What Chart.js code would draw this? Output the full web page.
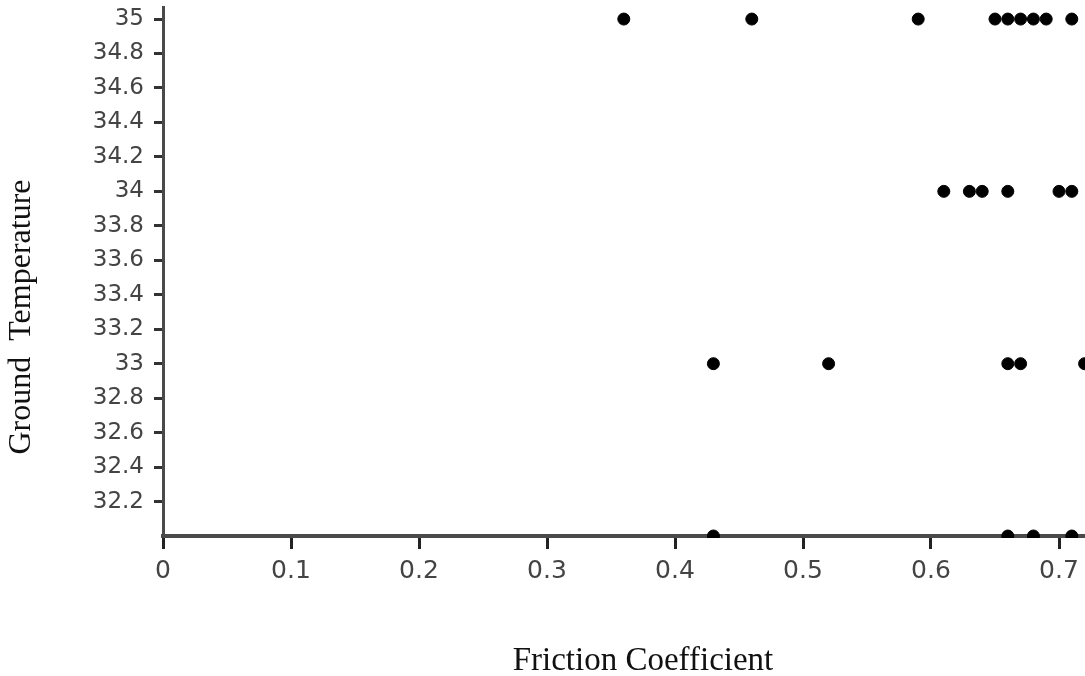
<!DOCTYPE html>
<html lang="en">
<head>
    <meta charset="UTF-8">
    <title>Friction Coefficient vs Ground Temperature</title>
    <script src="https://cdn.jsdelivr.net/npm/chart.js"></script>
    <style>
        html, body { margin: 0; padding: 0; overflow: hidden; background: #fff; }
        #grafico { display: block; }
    </style>
</head>
<body>
    <canvas id="grafico" width="1130" height="676"></canvas>
    <script>
        // values
        const friction = [
            0.36, 0.46, 0.59, 0.65, 0.66, 0.67, 0.68, 0.69, 0.71,
            0.61, 0.63, 0.64, 0.66, 0.70, 0.71,
            0.43, 0.52, 0.66, 0.67, 0.72,
            0.43, 0.66, 0.68, 0.71
        ];
        const temperature = [
            35, 35, 35, 35, 35, 35, 35, 35, 35,
            34, 34, 34, 34, 34, 34,
            33, 33, 33, 33, 33,
            32, 32, 32, 32
        ];
        const xTicks = [0, 0.1, 0.2, 0.3, 0.4, 0.5, 0.6, 0.7];
        const yTicks = [32.2, 32.4, 32.6, 32.8, 33, 33.2, 33.4, 33.6, 33.8, 34, 34.2, 34.4, 34.6, 34.8, 35];

        const puntos = friction.map((f, i) => ({ x: f, y: temperature[i] }));

        // y title sits a bit lower than the axis middle in the original
        const tituloY = {
            id: 'tituloY',
            afterDraw(chart) {
                const ctx = chart.ctx;
                ctx.save();
                ctx.translate(22, 317);
                ctx.rotate(-Math.PI / 2);
                ctx.font = '32px "Liberation Serif"';
                ctx.fillStyle = '#111';
                ctx.textAlign = 'center';
                ctx.textBaseline = 'middle';
                ctx.fillText('Ground  Temperature', 0, 0);
                ctx.restore();
            }
        };

        const ctx = document.getElementById('grafico').getContext('2d');
        new Chart(ctx, {
            type: 'scatter',
            data: {
                datasets: [{
                    label: 'Ground Temperature',
                    data: puntos,
                    backgroundColor: '#000',
                    borderColor: '#000',
                    borderWidth: 1,
                    pointRadius: 6,
                    pointHoverRadius: 6,
                    clip: { left: 10, top: 10, right: 10, bottom: 2 }
                }]
            },
            options: {
                responsive: false,
                animation: false,
                devicePixelRatio: 1,
                layout: { padding: { top: 7, left: 0, right: 0, bottom: 0 } },
                plugins: {
                    legend: { display: false },
                    tooltip: { enabled: false }
                },
                scales: {
                    x: {
                        type: 'linear',
                        min: 0,
                        max: 0.75,
                        afterBuildTicks: (s) => { s.ticks = xTicks.map(v => ({ value: v })); },
                        afterFit: (s) => {
                            s.height = 140;
                            s.paddingLeft = 0;
                            s.paddingRight = 0;
                        },
                        border: { color: '#4a4a4a', width: 4 },
                        grid: {
                            drawOnChartArea: false,
                            tickLength: 13,
                            tickWidth: 3,
                            tickColor: '#222'
                        },
                        ticks: {
                            padding: 7,
                            color: '#444',
                            font: { family: 'DejaVu Sans', size: 25 },
                            callback: (v) => String(v)
                        },
                        title: {
                            display: true,
                            text: 'Friction Coefficient',
                            color: '#111',
                            font: { family: 'Liberation Serif', size: 33 },
                            padding: { top: 0, bottom: -5 }
                        }
                    },
                    y: {
                        type: 'linear',
                        min: 32,
                        max: 35.07,
                        afterBuildTicks: (s) => { s.ticks = yTicks.map(v => ({ value: v })); },
                        afterFit: (s) => {
                            s.width = 163;
                            s.paddingTop = 0;
                            s.paddingBottom = 0;
                        },
                        border: { color: '#4a4a4a', width: 3 },
                        grid: { drawOnChartArea: false, tickLength: 9, tickWidth: 3, tickColor: '#333' },
                        ticks: {
                            padding: 10,
                            color: '#444',
                            font: { family: 'DejaVu Sans', size: 23 },
                            callback: (v) => String(v)
                        }
                    }
                }
            },
            plugins: [tituloY]
        });
    </script>
</body>
</html>
